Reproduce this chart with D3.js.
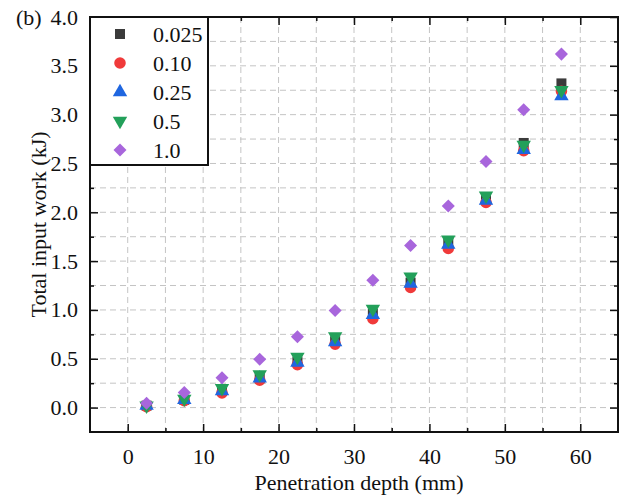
<!DOCTYPE html>
<html>
<head>
<meta charset="utf-8">
<script src="https://cdn.jsdelivr.net/npm/d3@7"></script>
<style>
  body { margin: 0; background: #fff; }
  text { font-family: "Liberation Serif", "Times New Roman", serif; fill: #111; }
</style>
</head>
<body>
<div id="chart"></div>
<script>
// penetration depth (mm)
const depth = [2.5, 7.5, 12.5, 17.5, 22.5, 27.5, 32.5, 37.5, 42.5, 47.5, 52.5, 57.5];
// total input work (kJ) per series
const s0025 = [0.02, 0.08, 0.17, 0.30, 0.47, 0.68, 0.96, 1.28, 1.69, 2.15, 2.71, 3.32];
const s010  = [0.01, 0.07, 0.15, 0.28, 0.44, 0.65, 0.91, 1.23, 1.63, 2.10, 2.63, 3.24];
const s025  = [0.02, 0.08, 0.17, 0.30, 0.46, 0.67, 0.95, 1.27, 1.67, 2.12, 2.64, 3.19];
const s05   = [0.02, 0.09, 0.20, 0.34, 0.52, 0.73, 1.01, 1.34, 1.72, 2.17, 2.69, 3.25];
const s10   = [0.045, 0.155, 0.305, 0.495, 0.725, 0.995, 1.305, 1.66, 2.065, 2.52, 3.05, 3.62];
const seriesNames = ["0.025", "0.10", "0.25", "0.5", "1.0"];
const xTicks = [0, 10, 20, 30, 40, 50, 60];
const yTicks = [0, 0.5, 1.0, 1.5, 2.0, 2.5, 3.0, 3.5, 4.0];

const series = [
  {name: seriesNames[0], values: s0025, color: "#3b3b3b", symbol: d3.symbolSquare, size: 100, rot: 0},
  {name: seriesNames[1], values: s010, color: "#f03a3a", symbol: d3.symbolCircle, size: 105, rot: 0},
  {name: seriesNames[2], values: s025, color: "#1f66e0", symbol: d3.symbolTriangle, size: 90, rot: 0},
  {name: seriesNames[3], values: s05, color: "#23a05a", symbol: d3.symbolTriangle, size: 90, rot: 180},
  {name: seriesNames[4], values: s10, color: "#a866dc", symbol: d3.symbolSquare, size: 85, rot: 45}
];

const W = 624, H = 495;
const margin = {top: 17, right: 6, bottom: 63, left: 90};
const width = W - margin.left - margin.right,
      height = H - margin.top - margin.bottom;

const svg = d3.select("#chart").append("svg")
    .attr("width", W).attr("height", H);
const g = svg.append("g")
    .attr("transform", "translate(" + margin.left + "," + margin.top + ")");

const x = d3.scaleLinear().domain([-5, 65]).range([0, width]);
const y = d3.scaleLinear().domain([-0.25, 4.0]).range([height, 0]);

// dashed grid at major and minor ticks
const xGrid = d3.range(0, 65, 5);
const yGrid = d3.range(0, 4.0, 0.25);
g.append("g").selectAll("line").data(xGrid).join("line")
    .attr("x1", d => x(d)).attr("x2", d => x(d))
    .attr("y1", 0).attr("y2", height)
    .attr("stroke", "#c4c4c4").attr("stroke-dasharray", "6,4").attr("stroke-width", 1);
g.append("g").selectAll("line").data(yGrid).join("line")
    .attr("y1", d => y(d)).attr("y2", d => y(d))
    .attr("x1", 0).attr("x2", width)
    .attr("stroke", "#c4c4c4").attr("stroke-dasharray", "6,4").attr("stroke-width", 1);

// axes with inward ticks
const fmt = d3.format(".1f");
function styleAxis(sel) {
  sel.select(".domain").remove();
  sel.selectAll("line").attr("stroke", "#111").attr("stroke-width", 1.5);
  sel.selectAll("text").style("font-size", "22px").attr("fill", "#111");
}
g.append("g").attr("transform", "translate(0," + height + ")")
    .call(d3.axisBottom(x).tickValues(xTicks).tickSize(-8).tickPadding(16))
    .call(styleAxis);
g.append("g").attr("transform", "translate(0," + height + ")")
    .call(d3.axisBottom(x).tickValues(d3.range(5, 65, 10)).tickSize(-4).tickFormat(""))
    .call(styleAxis);
g.append("g")
    .call(d3.axisTop(x).tickValues(xTicks).tickSize(-8).tickFormat(""))
    .call(styleAxis);
g.append("g")
    .call(d3.axisTop(x).tickValues(d3.range(5, 65, 10)).tickSize(-4).tickFormat(""))
    .call(styleAxis);
g.append("g")
    .call(d3.axisLeft(y).tickValues(yTicks).tickSize(-8).tickPadding(12).tickFormat(fmt))
    .call(styleAxis);
g.append("g")
    .call(d3.axisLeft(y).tickValues(d3.range(0.25, 4, 0.5)).tickSize(-4).tickFormat(""))
    .call(styleAxis);
g.append("g").attr("transform", "translate(" + width + ",0)")
    .call(d3.axisRight(y).tickValues(yTicks).tickSize(-8).tickFormat(""))
    .call(styleAxis);
g.append("g").attr("transform", "translate(" + width + ",0)")
    .call(d3.axisRight(y).tickValues(d3.range(0.25, 4, 0.5)).tickSize(-4).tickFormat(""))
    .call(styleAxis);

// frame
g.append("rect").attr("width", width).attr("height", height)
    .attr("fill", "none").attr("stroke", "#111").attr("stroke-width", 2);

// points
series.forEach(s => {
  const sym = d3.symbol().type(s.symbol).size(s.size);
  g.append("g").selectAll("path").data(s.values).join("path")
      .attr("d", sym)
      .attr("transform", (d, i) => "translate(" + x(depth[i]) + "," + y(d) + ") rotate(" + s.rot + ")")
      .attr("fill", s.color);
});

// legend
const lg = g.append("g");
lg.append("rect").attr("x", 0).attr("y", 0).attr("width", 118).attr("height", 148)
    .attr("fill", "#fff").attr("stroke", "#111").attr("stroke-width", 2);
series.forEach((s, i) => {
  const cy = 17 + i * 29;
  lg.append("path")
      .attr("d", d3.symbol().type(s.symbol).size(s.size)())
      .attr("transform", "translate(30," + cy + ") rotate(" + s.rot + ")")
      .attr("fill", s.color);
  lg.append("text").attr("x", 63).attr("y", cy).attr("dy", "0.35em")
      .style("font-size", "22px").text(s.name);
});

// axis titles
svg.append("text")
    .attr("transform", "translate(38," + (margin.top + height / 2) + ") rotate(-90)")
    .attr("text-anchor", "middle").attr("dy", "0.35em")
    .style("font-size", "22px").text("Total input work (kJ)");
svg.append("text")
    .attr("x", margin.left + width / 2 + 5).attr("y", 490)
    .attr("text-anchor", "middle")
    .style("font-size", "22px").text("Penetration depth (mm)");
svg.append("text").attr("x", 16).attr("y", 25)
    .style("font-size", "22px").text("(b)");
</script>
</body>
</html>
